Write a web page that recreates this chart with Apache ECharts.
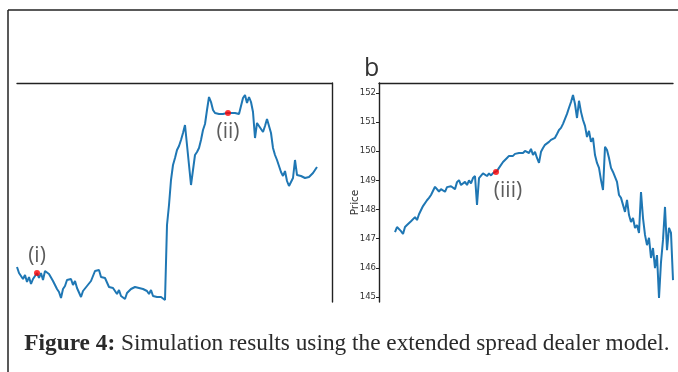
<!DOCTYPE html>
<html>
<head>
<meta charset="utf-8">
<script src="https://cdn.jsdelivr.net/npm/echarts@6/dist/echarts.min.js"></script>
<style>
  html, body { margin: 0; padding: 0; background: #fff; }
  #main { width: 678px; height: 372px; }
</style>
</head>
<body>
<div id="main"></div>
<script>
// panel a : simulated mid price (y axis hidden in the crop)
var levelsA = [
  17.5, 14.5, 15, 11.5, 13.5, 10, 12.5, 9, 11.5, 12.5, 14.5, 12, 14.5, 11, 15.5, 16.5, 14, 14, 10.5, 9.5,
  6.5, 5, 2, 6.5, 8, 11, 12, 11.5, 8.5, 10.5, 7, 6, 2.5, 5.5, 5.5, 8, 8.5, 10.5, 11.5, 15.5,
  16.5, 16, 12.5, 12, 12, 11, 7.5, 7, 7, 6, 4, 6, 3, 3, 1.5, 4.5, 4.5, 6.5, 7, 7.5,
  8, 7, 7, 6.5, 6, 5.5, 4, 6, 3, 3, 2.5, 2.5, 2.5, 2, 1,
  38.5, 48.5, 61, 68.5, 72, 76, 78, 81, 84.5, 88.5, 78.5, 68.5, 58.5, 66, 73.5, 75, 77, 81, 86, 89,
  96, 102.5, 100, 96, 94.5, 94.5, 94, 94.5, 94, 94.5, 94.5, 94.5, 94.5, 94, 94.5, 94.5, 94, 94.5,
  102, 103.5, 99.5, 102.5, 100, 95, 82, 89.5, 88, 88.5, 85, 88, 91.5, 92.5, 84.5, 77, 73.5, 71, 68, 65,
  63, 65.5, 60.5, 58, 60, 62, 71, 63.5, 63, 63, 62.5, 62, 62, 62.5, 61.5, 64.5, 64.5, 67.5
];
// panel b : price
var pricesB = [
  147.23, 147.40, 147.44, 147.26, 147.16, 147.40, 147.47, 147.45, 147.60, 147.58,
  147.74, 147.64, 147.84, 147.88, 148.12, 148.10, 148.32, 148.40, 148.50, 148.55,
  148.78, 148.72, 148.62, 148.70, 148.74, 148.61, 148.77, 148.76, 148.80, 148.82,
  148.70, 148.94, 149.01, 148.84, 148.88, 148.95, 148.84, 149.00, 148.90, 149.08,
  149.15, 148.16, 149.08, 149.12, 149.24, 149.27, 149.15, 149.24, 149.17, 149.25,
  149.29, 149.32, 149.43, 149.46, 149.63, 149.70, 149.77, 149.84, 149.87, 149.84,
  149.91, 149.91, 149.94, 149.98, 149.94, 150.01, 150.04, 149.94, 150.08, 149.87,
  149.98, 149.77, 149.60, 149.98, 150.11, 150.22, 150.28, 150.32, 150.39, 150.42,
  150.46, 150.59, 150.73, 150.80, 150.94, 151.11, 151.28, 151.49, 151.69, 151.93,
  151.62, 151.14, 151.73, 151.35, 151.07, 150.87, 150.49, 150.70, 150.32, 150.46,
  149.87, 149.60, 149.43, 149.01, 148.67, 150.15, 150.04, 149.77, 149.43, 149.29,
  149.12, 148.95, 148.50, 148.40, 148.16, 147.92, 148.33, 147.81, 147.57, 147.71,
  147.37, 147.47, 147.20, 148.60, 147.71, 147.13, 146.78, 147.03, 146.34, 146.68,
  145.99, 146.44, 144.97, 146.20, 146.96, 148.09, 146.61, 147.37, 147.20, 145.58
];
var priceTicks = [145, 146, 147, 148, 149, 150, 151, 152];
// marked states (i), (ii), (iii): [time index, value]
var markA = [[10, 14.5], [105.5, 94.5]];
var markB = [[50.5, 149.29]];
var markLabelsA = ['(i)', '(ii)'];
var markLabelsB = ['(iii)'];

var blue = '#1f77b4';
var spine = { show: true, onZero: false, lineStyle: { color: '#222', width: 1.4 } };

function withIndex(arr) {
    var out = [];
    for (var i = 0; i < arr.length; i++) {
        out.push([i, arr[i]]);
    }
    return out;
}

function marks(pts, labels, pos, dist, offs) {
    return {
        type: 'scatter',
        symbolSize: 6,
        itemStyle: { color: '#ff0000' },
        data: pts.map(function (p, i) {
            return {
                value: p,
                label: {
                    show: true, formatter: labels[i], position: pos[i], distance: dist[i], offset: offs[i],
                    fontFamily: 'Open Sans', fontSize: 21, color: '#333'
                }
            };
        }),
        z: 5
    };
}

var chart = echarts.init(document.getElementById('main'), null, { renderer: 'canvas' });

var option = {
    animation: false,
    backgroundColor: '#fff',
    title: {
        text: '{b|Figure 4:} Simulation results using the extended spread dealer model.',
        left: 342,
        textAlign: 'center',
        top: 327,
        textStyle: {
            fontFamily: 'Liberation Serif',
            fontSize: 23.3,
            fontWeight: 'normal',
            color: '#2a2a2a',
            rich: { b: { fontFamily: 'Liberation Serif', fontSize: 23.3, fontWeight: 'bold', color: '#2a2a2a' } }
        }
    },
    graphic: [
        // frame of the figure
        { type: 'line', shape: { x1: 8, y1: 10, x2: 678, y2: 10 }, style: { stroke: '#222', lineWidth: 1.5 } },
        { type: 'line', shape: { x1: 8, y1: 10, x2: 8, y2: 372 }, style: { stroke: '#222', lineWidth: 1.5 } },
        { type: 'text', left: 364, top: 56, style: { text: 'b', fontFamily: 'Open Sans', fontSize: 25, fill: '#333' } }
    ],
    grid: [
        { left: 17, top: 83, right: 346, bottom: 70 },
        { left: 379, top: 83, right: 5, bottom: 70 }
    ],
    xAxis: [
        { gridIndex: 0, type: 'value', min: 0, max: 157.5, position: 'top',
          axisLine: spine, axisTick: { show: false }, axisLabel: { show: false }, splitLine: { show: false } },
        { gridIndex: 1, type: 'value', min: -8, max: 139, position: 'top',
          axisLine: spine, axisTick: { show: false }, axisLabel: { show: false }, splitLine: { show: false } }
    ],
    yAxis: [
        { gridIndex: 0, type: 'value', min: 0, max: 109.5, position: 'right',
          axisLine: spine, axisTick: { show: false }, axisLabel: { show: false }, splitLine: { show: false } },
        { gridIndex: 1, type: 'value', min: 144.83, max: 152.34, position: 'left',
          name: 'Price', nameLocation: 'middle', nameGap: 18, nameMoveOverlap: false,
          nameTextStyle: { fontFamily: 'DejaVu Sans', fontSize: 10.5, color: '#333', padding: [0, 20, 0, 0] },
          axisLine: spine,
          axisTick: { show: true, length: 3, customValues: priceTicks, lineStyle: { color: '#222' } },
          axisLabel: { customValues: priceTicks, fontFamily: 'DejaVu Sans', fontSize: 8.5, color: '#333', margin: 3 },
          splitLine: { show: false } }
    ],
    series: [
        { type: 'line', xAxisIndex: 0, yAxisIndex: 0, data: withIndex(levelsA), showSymbol: false,
          lineStyle: { color: blue, width: 2 }, z: 2 },
        { type: 'line', xAxisIndex: 1, yAxisIndex: 1, data: withIndex(pricesB), showSymbol: false,
          lineStyle: { color: blue, width: 2 }, z: 2 },
        Object.assign(marks(markA, markLabelsA, ['top', 'bottom'], [3, 6], [[0, 0], [0, 0]]), { xAxisIndex: 0, yAxisIndex: 0 }),
        Object.assign(marks(markB, markLabelsB, ['bottom'], [6], [[12, 0]]), { xAxisIndex: 1, yAxisIndex: 1 })
    ]
};

chart.setOption(option);
</script>
</body>
</html>
